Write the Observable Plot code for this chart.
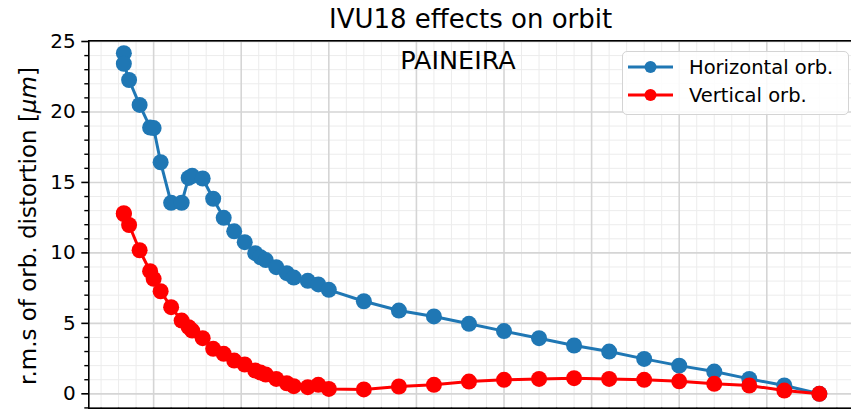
<!DOCTYPE html>
<html>
<head>
<meta charset="utf-8">
<script src="https://cdn.jsdelivr.net/npm/d3@7"></script>
<script src="https://cdn.jsdelivr.net/npm/@observablehq/plot@0.6"></script>
<style>
  html, body { margin: 0; padding: 0; background: #fff; overflow: hidden; }
  #wrap { position: relative; width: 851px; height: 409px; overflow: hidden; font-family: "DejaVu Sans", sans-serif; }
  #chart svg { display: block; }
  #ylabel { position: absolute; left: 28px; top: 226px; transform: translate(-50%, -50%) rotate(-90deg); white-space: nowrap; font-size: 23px; color: #000; }
  #legend { position: absolute; left: 622px; top: 51px; width: 227px; height: 64px; border: 1px solid #d4d4d4; border-radius: 5px; background: rgba(255,255,255,0.85); box-sizing: border-box; }
  .lrow { position: absolute; left: 5px; height: 28px; display: flex; align-items: center; font-size: 19.5px; white-space: nowrap; color: #000; }
  .lrow svg { margin-right: 16px; }
</style>
</head>
<body>
<div id="wrap">
  <div id="chart"></div>
  <div id="ylabel">r.m.s of orb. distortion [<i>μm</i>]</div>
  <div id="legend"></div>
</div>
<script>
// Insertion-device gap positions (x), shared by both series
const gap = [3.3, 3.3, 3.6, 4.2, 4.8, 5.0, 5.4, 6.0, 6.6, 7.0, 7.2, 7.8, 8.4, 9.0, 9.6,
             10.2, 10.8, 11.1, 11.4, 12.0, 12.6, 13.0, 13.8, 14.4, 15,
             17, 19, 21, 23, 25, 27, 29, 31, 33, 35, 37, 39, 41, 43];
// r.m.s. of horizontal orbit distortion [um]
const horizontal = [24.17, 23.42, 22.27, 20.5, 18.9, 18.86, 16.43, 13.55, 13.56, 15.32, 15.47, 15.28, 13.84, 12.49, 11.53,
                    10.76, 9.98, 9.69, 9.49, 8.99, 8.56, 8.25, 8.02, 7.76, 7.38,
                    6.57, 5.91, 5.49, 4.97, 4.45, 3.95, 3.43, 3.0, 2.48, 2.0, 1.58, 1.06, 0.59, 0.0];
// r.m.s. of vertical orbit distortion [um]
const vertical = [12.82, 12.76, 11.98, 10.19, 8.7, 8.16, 7.28, 6.15, 5.2, 4.73, 4.49, 3.95, 3.19, 2.84, 2.36,
                  2.08, 1.65, 1.51, 1.37, 1.06, 0.75, 0.54, 0.47, 0.64, 0.35,
                  0.31, 0.52, 0.64, 0.87, 0.99, 1.06, 1.11, 1.06, 0.99, 0.89, 0.71, 0.59, 0.23, 0.0];
const seriesNames = ["Horizontal orb.", "Vertical orb."];
const seriesColors = ["#1f77b4", "#ff0000"];
const yTickLabels = [0, 5, 10, 15, 20, 25];
const titleText = "IVU18 effects on orbit";
const annotation = "PAINEIRA";

const rows = gap.map((g, i) => ({gap: g, h: horizontal[i], v: vertical[i]}));

const xDomain = [1.3, 45];
const yDomain = [-1.02, 25.05];
const xMajor = d3.range(0, 46, 5).filter(d => d > xDomain[0] && d < xDomain[1]);
const xMinor = d3.range(0, 46, 1).filter(d => d % 5 !== 0 && d > xDomain[0] && d < xDomain[1]);
const yMinor = d3.range(-1, 26, 1).filter(d => d % 5 !== 0 && d > yDomain[0] && d < yDomain[1]);

const chart = Plot.plot({
  width: 851,
  height: 409,
  marginLeft: 88.3,
  marginTop: 40.3,
  marginBottom: 1.3,
  marginRight: -2.9,
  style: {fontFamily: "DejaVu Sans, sans-serif", background: "transparent", color: "black"},
  x: {domain: xDomain, range: [88.3, 853.9]},
  y: {domain: yDomain, range: [407.7, 40.3]},
  marks: [
    Plot.ruleX(xMinor, {stroke: "#ececec", strokeWidth: 1}),
    Plot.ruleY(yMinor, {stroke: "#ececec", strokeWidth: 1}),
    Plot.ruleX(xMajor, {stroke: "#d5d5d5", strokeWidth: 1.6}),
    Plot.ruleY(yTickLabels, {stroke: "#d5d5d5", strokeWidth: 1.6}),
    Plot.line(rows, {x: "gap", y: "h", stroke: seriesColors[0], strokeWidth: 3}),
    Plot.dot(rows, {x: "gap", y: "h", r: 8, fill: seriesColors[0]}),
    Plot.line(rows, {x: "gap", y: "v", stroke: seriesColors[1], strokeWidth: 3}),
    Plot.dot(rows, {x: "gap", y: "v", r: 8, fill: seriesColors[1]}),
    Plot.frame({stroke: "black", strokeWidth: 1.6}),
    Plot.axisY({ticks: yMinor, tickSize: 4, tickFormat: () => "", strokeWidth: 1.4, label: null}),
    Plot.axisY({ticks: yTickLabels, tickSize: 7, tickPadding: 6, fontSize: 20, strokeWidth: 1.6, label: null}),
    Plot.axisX({ticks: xMinor, tickSize: 4, tickFormat: () => "", strokeWidth: 1.4, label: null}),
    Plot.axisX({ticks: xMajor, tickSize: 7, tickFormat: () => "", strokeWidth: 1.6, label: null}),
    Plot.text([titleText], {frameAnchor: "top", dx: -1, dy: -13.3, lineAnchor: "bottom", fontSize: 26, fill: "black"}),
    Plot.text([annotation], {frameAnchor: "top", dx: -13.6, dy: 27.7, lineAnchor: "bottom", fontSize: 25.5, fill: "black"})
  ]
});
document.getElementById("chart").appendChild(chart);

// Legend (matplotlib-style box)
const legend = document.getElementById("legend");
seriesNames.forEach((name, i) => {
  const row = document.createElement("div");
  row.className = "lrow";
  row.style.top = (i === 0 ? 1 : 29) + "px";
  row.innerHTML = `<svg width="45" height="16"><line x1="0" x2="45" y1="8" y2="8" stroke="${seriesColors[i]}" stroke-width="3"/><circle cx="22.5" cy="8" r="6" fill="${seriesColors[i]}"/></svg><span>${name}</span>`;
  legend.appendChild(row);
});
</script>
</body>
</html>
